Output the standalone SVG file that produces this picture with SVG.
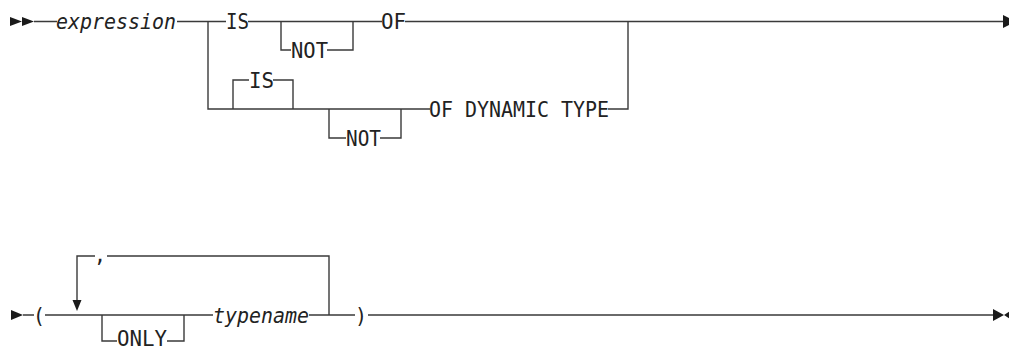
<svg xmlns="http://www.w3.org/2000/svg" width="1009" height="350" viewBox="0 0 1009 350">
<style>
.ln{stroke:#3a3a3a;stroke-width:1.4;fill:none}
.ar{fill:#1a1a1a}
text{font-family:"DejaVu Sans Mono","Liberation Mono",monospace;font-size:20.5px;fill:#222}
.v{font-style:italic}
</style>
<rect width="1009" height="350" fill="#fff"/>
<g id="connectors">
<polygon class="ar" points="10,17 22,21.5 10,26"/>
<polygon class="ar" points="22,17 34,21.5 22,26"/>
<path class="ln" d="M34,21.5H57 M177,21.5H226 M248,21.5H382 M405,21.5H1003"/>
<polygon class="ar" points="1003,15 1016,21.5 1003,28"/>
<path class="ln" d="M208,21.5V109H430"/>
<path class="ln" d="M233,109V80H249 M273,80H293V109"/>
<path class="ln" d="M281,21.5V50H291 M327,50H353V21.5"/>
<path class="ln" d="M329,109V138H346 M380,138H401V109"/>
<path class="ln" d="M608,109H628V21.5"/>
<polygon class="ar" points="11,310 23,315 11,320"/>
<path class="ln" d="M23,315H34 M45,315H213 M309,315H355 M368,315H993"/>
<polygon class="ar" points="993,309 1004,315 993,321"/>
<polygon class="ar" points="1013,309 1004,315 1013,321"/>
<path class="ln" d="M102,315V341H117 M167,341H184V315"/>
<path class="ln" d="M329,315V256H107 M95,256H77V301"/>
<polygon class="ar" points="72.5,300 81.5,300 77,311"/>
</g>
<g id="expression"><text class="v" x="56" y="29" textLength="120" lengthAdjust="spacingAndGlyphs">expression</text></g>
<g id="is"><text x="226" y="29" textLength="23" lengthAdjust="spacingAndGlyphs">IS</text></g>
<g id="not1"><text x="291" y="58" textLength="37" lengthAdjust="spacingAndGlyphs">NOT</text></g>
<g id="of"><text x="381" y="29" textLength="25" lengthAdjust="spacingAndGlyphs">OF</text></g>
<g id="is2"><text x="249" y="87.5" textLength="25" lengthAdjust="spacingAndGlyphs">IS</text></g>
<g id="not2"><text x="346" y="145.5" textLength="35" lengthAdjust="spacingAndGlyphs">NOT</text></g>
<g id="ofdyn"><text x="429" y="116.5" textLength="180" lengthAdjust="spacingAndGlyphs">OF DYNAMIC TYPE</text></g>
<g id="lparen"><text x="33" y="322.5" textLength="12" lengthAdjust="spacingAndGlyphs">(</text></g>
<g id="comma"><text x="94" y="262" textLength="12" lengthAdjust="spacingAndGlyphs">,</text></g>
<g id="only"><text x="117" y="346" font-size="19.5" textLength="50" lengthAdjust="spacingAndGlyphs">ONLY</text></g>
<g id="typename"><text class="v" x="213" y="322.5" textLength="96" lengthAdjust="spacingAndGlyphs">typename</text></g>
<g id="rparen"><text x="355" y="322.5" textLength="12" lengthAdjust="spacingAndGlyphs">)</text></g>
</svg>
